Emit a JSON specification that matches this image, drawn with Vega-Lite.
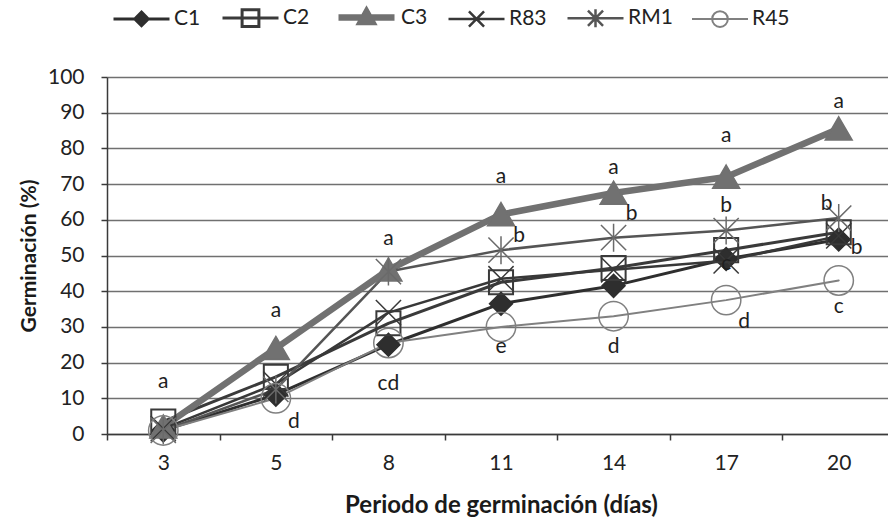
{
  "$schema": "https://vega.github.io/schema/vega-lite/v6.json",
  "width": 781,
  "height": 357,
  "autosize": "none",
  "padding": {"left": 107, "top": 77, "right": 0, "bottom": 90},
  "background": "white",
  "config": {
    "font": "Lato",
    "view": {"stroke": null},
    "axis": {
      "labelFont": "Lato",
      "labelFontSize": 21,
      "labelColor": "#222222",
      "titleFont": "Lato",
      "titleFontSize": 21,
      "titleFontWeight": "bold",
      "titleColor": "#1a1a1a",
      "domainColor": "#3a3a3a",
      "domainWidth": 1.5,
      "tickColor": "#3a3a3a",
      "tickWidth": 1.5,
      "tickSize": 6
    },
    "legend": {
      "title": null,
      "orient": "none",
      "legendX": 5,
      "legendY": -91,
      "direction": "horizontal",
      "symbolSize": 3136,
      "labelFontSize": 21,
      "labelFont": "Lato",
      "labelColor": "#222222",
      "labelOffset": 3,
      "columnPadding": 15,
      "symbolOpacity": 1
    }
  },
  "datasets": {
    "germ": [
      {"day": 3, "series": "C1", "value": 1},
      {"day": 5, "series": "C1", "value": 11},
      {"day": 8, "series": "C1", "value": 25},
      {"day": 11, "series": "C1", "value": 36.5},
      {"day": 14, "series": "C1", "value": 41.5},
      {"day": 17, "series": "C1", "value": 49},
      {"day": 20, "series": "C1", "value": 54.5},
      {"day": 3, "series": "C2", "value": 3.5},
      {"day": 5, "series": "C2", "value": 16},
      {"day": 8, "series": "C2", "value": 31},
      {"day": 11, "series": "C2", "value": 42.5},
      {"day": 14, "series": "C2", "value": 46.5},
      {"day": 17, "series": "C2", "value": 51.5},
      {"day": 20, "series": "C2", "value": 56.5},
      {"day": 3, "series": "C3", "value": 2},
      {"day": 5, "series": "C3", "value": 24},
      {"day": 8, "series": "C3", "value": 46},
      {"day": 11, "series": "C3", "value": 61.5},
      {"day": 14, "series": "C3", "value": 67.5},
      {"day": 17, "series": "C3", "value": 72},
      {"day": 20, "series": "C3", "value": 85.5},
      {"day": 3, "series": "R83", "value": 1.5},
      {"day": 5, "series": "R83", "value": 14},
      {"day": 8, "series": "R83", "value": 34},
      {"day": 11, "series": "R83", "value": 43.5},
      {"day": 14, "series": "R83", "value": 46},
      {"day": 17, "series": "R83", "value": 48.5},
      {"day": 20, "series": "R83", "value": 55.5},
      {"day": 3, "series": "RM1", "value": 1},
      {"day": 5, "series": "RM1", "value": 12.5},
      {"day": 8, "series": "RM1", "value": 45.5},
      {"day": 11, "series": "RM1", "value": 51.5},
      {"day": 14, "series": "RM1", "value": 55},
      {"day": 17, "series": "RM1", "value": 57},
      {"day": 20, "series": "RM1", "value": 60.5},
      {"day": 3, "series": "R45", "value": 1},
      {"day": 5, "series": "R45", "value": 10},
      {"day": 8, "series": "R45", "value": 25.5},
      {"day": 11, "series": "R45", "value": 30},
      {"day": 14, "series": "R45", "value": 33},
      {"day": 17, "series": "R45", "value": 37.5},
      {"day": 20, "series": "R45", "value": 43}
    ],
    "letters": [
      {"day": 3, "letter": "a", "value": 14.5, "side": "c"},
      {"day": 5, "letter": "a", "value": 34.5, "side": "c"},
      {"day": 5, "letter": "d", "value": 3.5, "side": "r"},
      {"day": 8, "letter": "a", "value": 54.5, "side": "c"},
      {"day": 8, "letter": "cd", "value": 14, "side": "c"},
      {"day": 11, "letter": "a", "value": 72, "side": "c"},
      {"day": 11, "letter": "b", "value": 55.5, "side": "r"},
      {"day": 11, "letter": "e", "value": 24.5, "side": "c"},
      {"day": 14, "letter": "a", "value": 74.5, "side": "c"},
      {"day": 14, "letter": "b", "value": 61.5, "side": "r"},
      {"day": 14, "letter": "d", "value": 24.5, "side": "c"},
      {"day": 17, "letter": "a", "value": 83.5, "side": "c"},
      {"day": 17, "letter": "b", "value": 64, "side": "c"},
      {"day": 17, "letter": "c", "value": 47.5, "side": "c"},
      {"day": 17, "letter": "d", "value": 31.5, "side": "r"},
      {"day": 20, "letter": "a", "value": 93, "side": "c"},
      {"day": 20, "letter": "b", "value": 64.5, "side": "l"},
      {"day": 20, "letter": "b", "value": 52, "side": "r"},
      {"day": 20, "letter": "c", "value": 35.5, "side": "c"}
    ]
  },
  "data": {"name": "germ"},
  "encoding": {
    "x": {
      "field": "day",
      "type": "ordinal",
      "scale": {"type": "band", "range": [0, 788], "paddingInner": 0, "paddingOuter": 0},
      "axis": {
        "title": "Periodo de germinación (días)",
        "titleFontSize": 24,
        "labelAngle": 0,
        "tickBand": "extent",
        "labelPadding": 12,
        "titlePadding": 20,
        "grid": false
      }
    },
    "y": {
      "field": "value",
      "type": "quantitative",
      "scale": {"domain": [0, 100], "nice": false},
      "axis": {
        "title": "Germinación (%)",
        "values": [0, 10, 20, 30, 40, 50, 60, 70, 80, 90, 100],
        "grid": true,
        "gridColor": "#707070",
        "gridWidth": 1.3,
        "labelPadding": 17,
        "titlePadding": 8
      }
    }
  },
  "layer": [
    {
      "mark": {"type": "line", "strokeJoin": "round", "strokeCap": "round"},
      "encoding": {
        "stroke": {
          "field": "series",
          "type": "nominal",
          "scale": {"domain": ["C1", "C2", "C3", "R83", "RM1", "R45"], "range": ["#2e2e2e", "#3a3a3a", "#717171", "#383838", "#555555", "#808080"]}
        },
        "strokeWidth": {
          "field": "series",
          "type": "nominal",
          "scale": {"type": "ordinal", "domain": ["C1", "C2", "C3", "R83", "RM1", "R45"], "range": [3, 3, 6.5, 2.5, 2.5, 2]}
        }
      }
    },
    {
      "transform": [{"filter": "datum.series === 'C1'"}],
      "mark": {"type": "point", "shape": "M0,-0.82L0.82,0L0,0.82L-0.82,0Z", "size": 784, "filled": true, "fill": "#2e2e2e", "stroke": "#2e2e2e", "strokeWidth": 1.5, "opacity": 1}
    },
    {
      "transform": [{"filter": "datum.series === 'C2'"}],
      "mark": {"type": "point", "shape": "M-0.86,-0.86L0.86,-0.86L0.86,0.86L-0.86,0.86Z", "size": 784, "filled": false, "fill": "transparent", "stroke": "#3a3a3a", "strokeWidth": 2, "opacity": 1}
    },
    {
      "transform": [{"filter": "datum.series === 'C3'"}],
      "mark": {"type": "point", "shape": "M0,-0.85L0.96,0.8L-0.96,0.8Z", "size": 784, "filled": true, "fill": "#717171", "stroke": "#717171", "strokeWidth": 1.5, "opacity": 1}
    },
    {
      "transform": [{"filter": "datum.series === 'R83'"}],
      "mark": {"type": "point", "shape": "M-0.9,-0.9L0.9,0.9M-0.9,0.9L0.9,-0.9", "size": 784, "filled": false, "stroke": "#383838", "strokeWidth": 1.5, "opacity": 1}
    },
    {
      "transform": [{"filter": "datum.series === 'RM1'"}],
      "mark": {"type": "point", "shape": "M-0.9,-0.9L0.9,0.9M-0.9,0.9L0.9,-0.9M0,-1L0,1", "size": 784, "filled": false, "stroke": "#6a6a6a", "strokeWidth": 1.5, "opacity": 1}
    },
    {
      "transform": [{"filter": "datum.series === 'R45'"}],
      "mark": {"type": "point", "shape": "M1.05,0A1.05,1.05,0,1,1,-1.05,0A1.05,1.05,0,1,1,1.05,0Z", "size": 784, "filled": false, "fill": "transparent", "stroke": "#808080", "strokeWidth": 1.5, "opacity": 1}
    },
    {
      "transform": [{"filter": "false"}],
      "mark": {"type": "point", "filled": true, "opacity": 1},
      "encoding": {
        "shape": {
          "field": "series",
          "type": "nominal",
          "scale": {
            "domain": ["C1", "C2", "C3", "R83", "RM1", "R45"],
            "range": [
              "M-1,0L1,0M0,-0.24L0.24,0L0,0.24L-0.24,0Z",
              "M-1,0L1,0M-0.3,-0.3L0.3,-0.3L0.3,0.3L-0.3,0.3Z",
              "M-1,0L1,0M0,-0.2L0.2,0.16L-0.2,0.16Z",
              "M-1,0L1,0M-0.27,-0.27L0.27,0.27M-0.27,0.27L0.27,-0.27",
              "M-1,0L1,0M-0.27,-0.27L0.27,0.27M-0.27,0.27L0.27,-0.27M0,-0.32L0,0.32",
              "M-1,0L1,0M0.28,0A0.28,0.28,0,1,1,-0.28,0A0.28,0.28,0,1,1,0.28,0Z"
            ]
          }
        },
        "stroke": {
          "field": "series",
          "type": "nominal",
          "scale": {"domain": ["C1", "C2", "C3", "R83", "RM1", "R45"], "range": ["#2e2e2e", "#3a3a3a", "#717171", "#383838", "#555555", "#808080"]}
        },
        "fill": {
          "field": "series",
          "type": "nominal",
          "scale": {"domain": ["C1", "C2", "C3", "R83", "RM1", "R45"], "range": ["#2e2e2e", "rgba(255,255,255,0)", "#717171", "rgba(255,255,255,0)", "rgba(255,255,255,0)", "rgba(255,255,255,0)"]}
        },
        "strokeWidth": {
          "field": "series",
          "type": "nominal",
          "scale": {"type": "ordinal", "domain": ["C1", "C2", "C3", "R83", "RM1", "R45"], "range": [3, 3, 6.5, 2.5, 2.5, 2]}
        }
      }
    },
    {
      "data": {"name": "letters"},
      "transform": [{"filter": "datum.side === 'c'"}],
      "mark": {"type": "text", "fontSize": 21, "font": "Lato", "color": "#1e1e1e", "baseline": "middle", "align": "center"},
      "encoding": {"text": {"field": "letter", "type": "nominal"}}
    },
    {
      "data": {"name": "letters"},
      "transform": [{"filter": "datum.side === 'r'"}],
      "mark": {"type": "text", "fontSize": 21, "font": "Lato", "color": "#1e1e1e", "baseline": "middle", "align": "center", "dx": 18},
      "encoding": {"text": {"field": "letter", "type": "nominal"}}
    },
    {
      "data": {"name": "letters"},
      "transform": [{"filter": "datum.side === 'l'"}],
      "mark": {"type": "text", "fontSize": 21, "font": "Lato", "color": "#1e1e1e", "baseline": "middle", "align": "center", "dx": -12},
      "encoding": {"text": {"field": "letter", "type": "nominal"}}
    }
  ]
}
